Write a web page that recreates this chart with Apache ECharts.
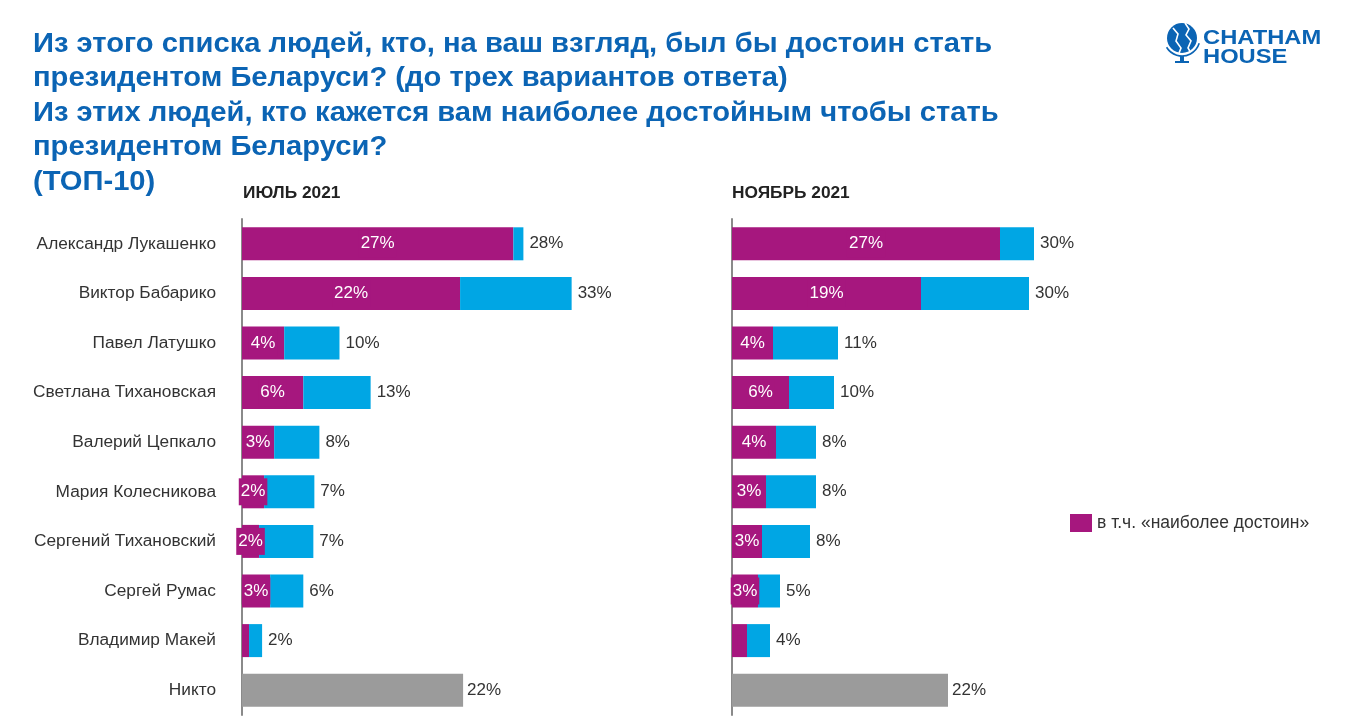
<!DOCTYPE html>
<html><head><meta charset="utf-8">
<script src="https://cdn.jsdelivr.net/npm/echarts@6/dist/echarts.min.js"></script>
<style>html,body{margin:0;padding:0;background:#fff}#c{width:1351px;height:727px}</style>
</head><body><div id="c"></div>
<script>
const categories = ['Александр Лукашенко','Виктор Бабарико','Павел Латушко','Светлана Тихановская','Валерий Цепкало','Мария Колесникова','Сергений Тихановский','Сергей Румас','Владимир Макей','Никто'];
const panelTitles = ['ИЮЛЬ 2021','НОЯБРЬ 2021'];
const titleLines = ['Из этого списка людей, кто, на ваш взгляд, был бы достоин стать','президентом Беларуси? (до трех вариантов ответа)','Из этих людей, кто кажется вам наиболее достойным чтобы стать','президентом Беларуси?','(ТОП-10)'];
// "наиболее достоин" share (%)
const julyMost = [27, 21.7, 4.2, 6.1, 3.2, 2.2, 1.7, 2.8, 0.7, null];
// total "достоин" (%)
const julyTotal = [28, 32.8, 9.7, 12.8, 7.7, 7.2, 7.1, 6.1, 2.0, null];
const julyNone = [null, null, null, null, null, null, null, null, null, 22];
const novMost = [26.8, 18.9, 4.1, 5.7, 4.4, 3.4, 3.0, 2.6, 1.5, null];
const novTotal = [30.2, 29.7, 10.6, 10.2, 8.4, 8.4, 7.8, 4.8, 3.8, null];
const novNone = [null, null, null, null, null, null, null, null, null, 21.6];
const legendName = 'в т.ч. «наиболее достоин»';

const MAG = '#A6177E', BLUE = '#00A6E4', GREY = '#9B9B9B', TBLUE = '#0B64B4';
const FONT = 'Liberation Sans, Arial, sans-serif';
const chart = echarts.init(document.getElementById('c'));

function restOf(most, total){ return total.map((t,i)=> t==null ? null : +(t - most[i]).toFixed(2)); }

function panel(idx, most, total, none){
  return [
    {name: legendName, type:'bar', xAxisIndex: idx, yAxisIndex: idx, stack:'s'+idx, barWidth:33,
     itemStyle:{color:MAG}, data: most,
     label:{show:true, position:'inside', color:'#fff', fontSize:17, fontFamily:FONT,
       backgroundColor: MAG, padding:[5,2],
       formatter: p => (p.value!=null && p.value>=1.6) ? Math.round(p.value)+'%' : ''}},
    {name:'rest'+idx, type:'bar', xAxisIndex: idx, yAxisIndex: idx, stack:'s'+idx, barWidth:33,
     itemStyle:{color:BLUE}, data: restOf(most,total),
     label:{show:true, position:'right', distance:6, color:'#333', fontSize:17, fontFamily:FONT,
       formatter: p => total[p.dataIndex]==null ? '' : Math.round(total[p.dataIndex])+'%'}},
    {name:'none'+idx, type:'bar', xAxisIndex: idx, yAxisIndex: idx, stack:'s'+idx, barWidth:33,
     itemStyle:{color:GREY}, data: none,
     label:{show:true, position:'right', distance:4, color:'#333', fontSize:17, fontFamily:FONT,
       formatter: p => p.value==null ? '' : Math.round(p.value)+'%'}}
  ];
}

const titleGraphics = titleLines.map((t,i)=>({
  type:'text', x:33, y:31 + i*34.4, scaleX:1.08,
  style:{text:t, fill:TBLUE, font:'bold 27px '+FONT, textVerticalAlign:'top'}
}));

const option = {
  animation:false,
  legend:{
    left:1065, top:509, itemWidth:22, itemHeight:18, itemGap:7,
    data:[legendName], icon:'rect',
    textStyle:{fontSize:17.5, color:'#333', fontFamily:FONT}
  },
  grid:[
    {left:242, top:219, width:402, height:496},
    {left:732, top:219, width:400, height:496}
  ],
  xAxis:[0,1].map(i=>({gridIndex:i, type:'value', min:0, max:40, show:false})),
  yAxis:[0,1].map(i=>({gridIndex:i, type:'category', inverse:true, data:categories,
    axisLine:{show:true, lineStyle:{color:'#8a8a8a', width:2}},
    axisTick:{show:false},
    axisLabel:{show:i===0, margin:26, color:'#333', fontSize:17.3, fontFamily:FONT}})),
  graphic:[
    ...titleGraphics,
    {type:'text', x:243, y:186, scaleX:1.08, style:{text:panelTitles[0], fill:'#222', font:'bold 16px '+FONT}},
    {type:'text', x:732, y:186, scaleX:1.08, style:{text:panelTitles[1], fill:'#222', font:'bold 16px '+FONT}},
    // logo
    {type:'group', x:1166, y:22, children:[
      {type:'circle', shape:{cx:16, cy:16, r:15}, style:{fill:TBLUE}},
      {type:'polyline', shape:{points:[[7,6],[12,12],[10,19],[15,26],[13,31]]}, style:{stroke:'#fff', lineWidth:1.6, fill:null}},
      {type:'polyline', shape:{points:[[19,1],[23,7],[20,13],[25,19],[22,26],[25,31]]}, style:{stroke:'#fff', lineWidth:1.6, fill:null}},
      {type:'arc', shape:{cx:16, cy:16, r:18, startAngle:0.3, endAngle:2.6}, style:{stroke:TBLUE, lineWidth:1.6, fill:null}},
      {type:'rect', shape:{x:14, y:34, width:4, height:5}, style:{fill:TBLUE}},
      {type:'rect', shape:{x:9, y:39, width:14, height:2}, style:{fill:TBLUE}}
    ]},
    {type:'text', x:1203, y:28, scaleX:1.13, style:{text:'CHATHAM', fill:TBLUE, font:'bold 21px '+FONT}},
    {type:'text', x:1203, y:47, scaleX:1.13, style:{text:'HOUSE', fill:TBLUE, font:'bold 21px '+FONT}}
  ],
  series:[...panel(0, julyMost, julyTotal, julyNone), ...panel(1, novMost, novTotal, novNone)]
};
chart.setOption(option);
</script></body></html>
